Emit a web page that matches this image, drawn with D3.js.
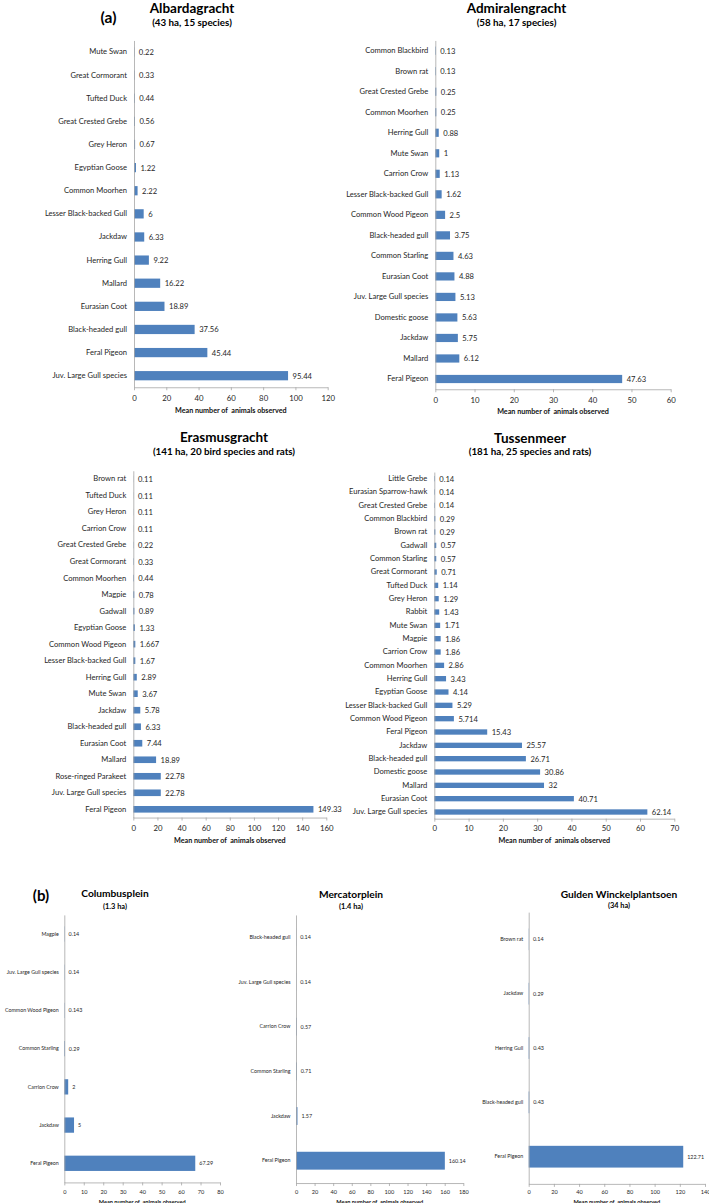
<!DOCTYPE html>
<html><head><meta charset="utf-8">
<script src="https://cdn.jsdelivr.net/npm/d3@7/dist/d3.min.js"></script>
<style>
body{margin:0;background:#fff}
svg text{font-family:Lato,"Open Sans",sans-serif}
</style>
</head><body>
<svg id="chart" width="709" height="1203"></svg>
<script>
// ---------- data ----------
const albCats = ["Mute Swan","Great Cormorant","Tufted Duck","Great Crested Grebe","Grey Heron","Egyptian Goose","Common Moorhen","Lesser Black-backed Gull","Jackdaw","Herring Gull","Mallard","Eurasian Coot","Black-headed gull","Feral Pigeon","Juv. Large Gull species"];
const albVals = [0.22,0.33,0.44,0.56,0.67,1.22,2.22,6,6.33,9.22,16.22,18.89,37.56,45.44,95.44];
const albTicks = [0,20,40,60,80,100,120];

const admCats = ["Common Blackbird","Brown rat","Great Crested Grebe","Common Moorhen","Herring Gull","Mute Swan","Carrion Crow","Lesser Black-backed Gull","Common Wood Pigeon","Black-headed gull","Common Starling","Eurasian Coot","Juv. Large Gull species","Domestic goose","Jackdaw","Mallard","Feral Pigeon"];
const admVals = [0.13,0.13,0.25,0.25,0.88,1,1.13,1.62,2.5,3.75,4.63,4.88,5.13,5.63,5.75,6.12,47.63];
const admTicks = [0,10,20,30,40,50,60];

const eraCats = ["Brown rat","Tufted Duck","Grey Heron","Carrion Crow","Great Crested Grebe","Great Cormorant","Common Moorhen","Magpie","Gadwall","Egyptian Goose","Common Wood Pigeon","Lesser Black-backed Gull","Herring Gull","Mute Swan","Jackdaw","Black-headed gull","Eurasian Coot","Mallard","Rose-ringed Parakeet","Juv. Large Gull species","Feral Pigeon"];
const eraVals = [0.11,0.11,0.11,0.11,0.22,0.33,0.44,0.78,0.89,1.33,1.667,1.67,2.89,3.67,5.78,6.33,7.44,18.89,22.78,22.78,149.33];
const eraTicks = [0,20,40,60,80,100,120,140,160];

const tusCats = ["Little Grebe","Eurasian Sparrow-hawk","Great Crested Grebe","Common Blackbird","Brown rat","Gadwall","Common Starling","Great Cormorant","Tufted Duck","Grey Heron","Rabbit","Mute Swan","Magpie","Carrion Crow","Common Moorhen","Herring Gull","Egyptian Goose","Lesser Black-backed Gull","Common Wood Pigeon","Feral Pigeon","Jackdaw","Black-headed gull","Domestic goose","Mallard","Eurasian Coot","Juv. Large Gull species"];
const tusVals = [0.14,0.14,0.14,0.29,0.29,0.57,0.57,0.71,1.14,1.29,1.43,1.71,1.86,1.86,2.86,3.43,4.14,5.29,5.714,15.43,25.57,26.71,30.86,32,40.71,62.14];
const tusTicks = [0,10,20,30,40,50,60,70];

const colCats = ["Magpie","Juv. Large Gull species","Common Wood Pigeon","Common Starling","Carrion Crow","Jackdaw","Feral Pigeon"];
const colVals = [0.14,0.14,0.143,0.29,2,5,67.29];
const colTicks = [0,10,20,30,40,50,60,70,80];

const merCats = ["Black-headed gull","Juv. Large Gull species","Carrion Crow","Common Starling","Jackdaw","Feral Pigeon"];
const merVals = [0.14,0.14,0.57,0.71,1.57,160.14];
const merTicks = [0,20,40,60,80,100,120,140,160,180];

const gulCats = ["Brown rat","Jackdaw","Herring Gull","Black-headed gull","Feral Pigeon"];
const gulVals = [0.14,0.29,0.43,0.43,122.71];
const gulTicks = [0,20,40,60,80,100,120,140];

const axisTitle = "Mean number of  animals observed";

// ---------- layout ----------
const styleA = {cat:7.6, val:7.6, tick:7.8, axisT:7.2, title:13.5, sub:9.8, gap:7, vgap:4.5};
const styleB = {cat:5.3, val:5.4, tick:5.6, axisT:5.6, title:10.2, sub:7.4, gap:5.5, vgap:4};

const panels = [
  {cats:albCats, vals:albVals, ticks:albTicks, x0:134, x1:327.7, y0:52, y1:375.7, title:"Albardagracht", sub:"(43 ha, 15 species)", tx:192, ty:7.5, sy:21.5, tickY:398, atY:410, st:styleA},
  {cats:admCats, vals:admVals, ticks:admTicks, x0:435.3, x1:670.7, y0:50.7, y1:379, title:"Admiralengracht", sub:"(58 ha, 17 species)", tx:516.5, ty:7.5, sy:21.5, tickY:400, atY:411, st:styleA},
  {cats:eraCats, vals:eraVals, ticks:eraTicks, x0:133.3, x1:326.3, y0:479, y1:809.3, title:"Erasmusgracht", sub:"(141 ha, 20 bird species and rats)", tx:224, ty:436.7, sy:451, tickY:828, atY:840, st:styleA},
  {cats:tusCats, vals:tusVals, ticks:tusTicks, x0:434.3, x1:674.3, y0:478.7, y1:812, title:"Tussenmeer", sub:"(181 ha, 25 species and rats)", tx:530, ty:437.7, sy:451, tickY:828, atY:840, st:styleA},
  {cats:colCats, vals:colVals, ticks:colTicks, x0:64.3, x1:220, y0:934, y1:1163.3, title:"Columbusplein", sub:"(1.3 ha)", tx:115, ty:893, sy:906, tickY:1191.7, atY:1201, st:styleB},
  {cats:merCats, vals:merVals, ticks:merTicks, x0:296, x1:463.3, y0:937.3, y1:1160.7, title:"Mercatorplein", sub:"(1.4 ha)", tx:351, ty:894, sy:906.7, tickY:1191.7, atY:1201, st:styleB},
  {cats:gulCats, vals:gulVals, ticks:gulTicks, x0:528.7, x1:705, y0:939.3, y1:1156.7, title:"Gulden Winckelplantsoen", sub:"(34 ha)", tx:619, ty:894, sy:905.7, tickY:1191.7, atY:1201, st:styleB}
];

const svg = d3.select("#chart");
const barColor = "#4F81BD";
const axisColor = "#A6A6A6";
const textColor = "#262626";

function drawPanel(p){
  const st = p.st;
  const g = svg.append("g");
  const n = p.cats.length;
  const s = (p.y1 - p.y0)/(n-1);
  const y = d3.scaleBand().domain(p.cats).range([p.y0 - s/2, p.y1 + s/2]).paddingInner(0.6).paddingOuter(0.3);
  const x = d3.scaleLinear().domain([0, d3.max(p.ticks)]).range([p.x0, p.x1]);
  const base = p.y1 + s/2;

  g.selectAll("rect.bar").data(p.cats).join("rect")
    .attr("class","bar")
    .attr("x", x(0))
    .attr("y", d => y(d))
    .attr("width", (d,i) => Math.max(0, x(p.vals[i]) - x(0)))
    .attr("height", y.bandwidth())
    .attr("fill", barColor);

  g.selectAll("text.val").data(p.cats).join("text")
    .attr("class","val")
    .attr("x", (d,i) => x(p.vals[i]) + st.vgap)
    .attr("y", d => y(d) + y.bandwidth()/2)
    .attr("dominant-baseline","central")
    .attr("font-size", st.val)
    .attr("fill", textColor)
    .text((d,i) => String(p.vals[i]));

  const ya = g.append("g").attr("transform", `translate(${x(0)},0)`)
    .call(d3.axisLeft(y).tickSize(0).tickPadding(st.gap));
  ya.select(".domain").attr("stroke", axisColor).attr("stroke-width", 0.8);
  ya.selectAll("text").attr("font-size", st.cat).attr("fill", textColor)
    .attr("font-family", "Lato, 'Open Sans', sans-serif");

  const xa = g.append("g").attr("transform", `translate(0,${base})`)
    .call(d3.axisBottom(x).tickValues(p.ticks).tickSizeInner(3).tickSizeOuter(0).tickPadding(p.tickY - base - 3));
  xa.select(".domain").attr("stroke", axisColor).attr("stroke-width", 0.8);
  xa.selectAll(".tick line").attr("stroke", axisColor).attr("stroke-width", 0.8);
  xa.selectAll("text").attr("font-size", st.tick).attr("fill", textColor)
    .attr("dy", null).attr("dominant-baseline","central")
    .attr("font-family", "Lato, 'Open Sans', sans-serif");

  g.append("text")
    .attr("x", (p.x0 + p.x1)/2).attr("y", p.atY)
    .attr("text-anchor","middle").attr("dominant-baseline","central")
    .attr("font-size", st.axisT).attr("font-weight","bold").attr("fill", "#111")
    .style("white-space","pre")
    .text(axisTitle);

  g.append("text")
    .attr("x", p.tx).attr("y", p.ty)
    .attr("text-anchor","middle").attr("dominant-baseline","central")
    .attr("font-size", st.title).attr("font-weight","bold").attr("fill","#000")
    .text(p.title);
  g.append("text")
    .attr("x", p.tx).attr("y", p.sy)
    .attr("text-anchor","middle").attr("dominant-baseline","central")
    .attr("font-size", st.sub).attr("font-weight","bold").attr("fill","#000")
    .text(p.sub);
}

panels.forEach(drawPanel);

svg.append("text").attr("x",108.5).attr("y",16.5).attr("text-anchor","middle").attr("dominant-baseline","central")
  .attr("font-size",15.5).attr("font-weight","bold").text("(a)");
svg.append("text").attr("x",41).attr("y",895).attr("text-anchor","middle").attr("dominant-baseline","central")
  .attr("font-size",15).attr("font-weight","bold").text("(b)");
</script>
</body></html>
